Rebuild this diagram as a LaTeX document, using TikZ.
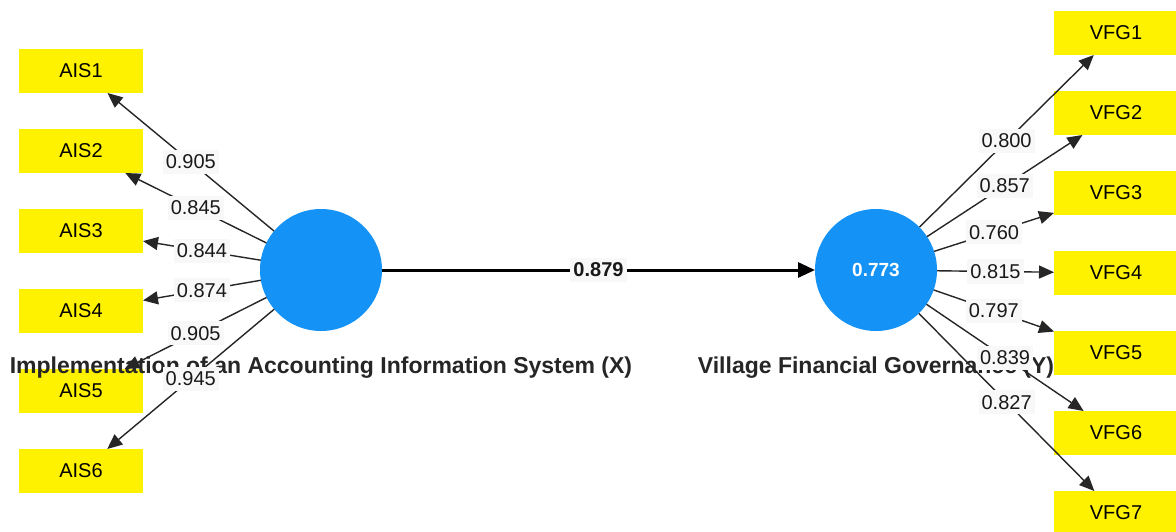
\documentclass[tikz,border=0pt]{standalone}
\usepackage{fontspec}
\setmainfont{Liberation Sans}
\usetikzlibrary{arrows.meta}
\definecolor{lvblue}{RGB}{20,146,245}
\definecolor{lblgray}{RGB}{248,248,248}
\begin{document}
\begin{tikzpicture}
        [x=1pt, y=-1pt,
        indicator/.style={rectangle, fill=yellow, minimum width=124pt, minimum height=44pt, inner sep=0pt, outer sep=0pt, font=\fontsize{20}{24}\selectfont},
        latent/.style={circle, fill=lvblue, minimum size=122pt, inner sep=0pt, outer sep=0pt, text=white, font=\bfseries\fontsize{19}{22}\selectfont},
        lvname/.style={font=\bfseries\fontsize{23}{26}\selectfont, text=black!85},
        loading/.style={black!85, line width=1.4pt, -{Triangle[length=15pt, width=13pt]}},
        pathline/.style={black, line width=3pt, -{Triangle[length=17pt, width=15pt]}},
        weight/.style={fill=lblgray, inner xsep=3pt, inner ysep=5pt, font=\fontsize{20}{24}\selectfont, text=black!90}]

        \useasboundingbox (0,0) rectangle (1176,531);

        % Indicators of X
        \node[indicator] (ais1) at (81,71) {AIS1};
        \node[indicator] (ais2) at (81,151) {AIS2};
        \node[indicator] (ais3) at (81,231) {AIS3};
        \node[indicator] (ais4) at (81,311) {AIS4};
        \node[indicator] (ais5) at (81,391) {AIS5};
        \node[indicator] (ais6) at (81,471) {AIS6};

        % Indicators of Y
        \node[indicator] (vfg1) at (1116,33) {VFG1};
        \node[indicator] (vfg2) at (1116,113) {VFG2};
        \node[indicator] (vfg3) at (1116,193) {VFG3};
        \node[indicator] (vfg4) at (1116,273) {VFG4};
        \node[indicator] (vfg5) at (1116,353) {VFG5};
        \node[indicator] (vfg6) at (1116,433) {VFG6};
        \node[indicator] (vfg7) at (1116,513) {VFG7};

        % Latent variables
        \node[latent] (x) at (321,270) {};
        \node[latent] (y) at (876,270) {0.773};

        % Names of the latent variables
        \node[lvname] (xname) at (321,368) {Implementation of an Accounting Information System (X)};
        \node[lvname] (yname) at (876,368) {Village Financial Governance (Y)};

        % Outer loadings of X
        \draw[loading] (x) -- (ais1) node[midway, weight] {0.905};
        \draw[loading] (x) -- (ais2) node[midway, weight] {0.845};
        \draw[loading] (x) -- (ais3) node[midway, weight] {0.844};
        \draw[loading] (x) -- (ais4) node[midway, weight] {0.874};
        \draw[loading] (x) -- (ais5) node[midway, weight] {0.905};
        \draw[loading] (x) -- (ais6) node[midway, weight] {0.945};

        % Outer loadings of Y
        \draw[loading] (y) -- (vfg1) node[midway, weight] {0.800};
        \draw[loading] (y) -- (vfg2) node[midway, weight] {0.857};
        \draw[loading] (y) -- (vfg3) node[midway, weight] {0.760};
        \draw[loading] (y) -- (vfg4) node[midway, weight] {0.815};
        \draw[loading] (y) -- (vfg5) node[midway, weight] {0.797};
        \draw[loading] (y) -- (vfg6) node[midway, weight] {0.839};
        \draw[loading] (y) -- (vfg7) node[midway, weight] {0.827};

        % Path coefficient
        \draw[pathline] (x) -- (y) node[midway, weight, font=\bfseries\fontsize{20}{24}\selectfont] {0.879};

    \end{tikzpicture}
\end{document}
